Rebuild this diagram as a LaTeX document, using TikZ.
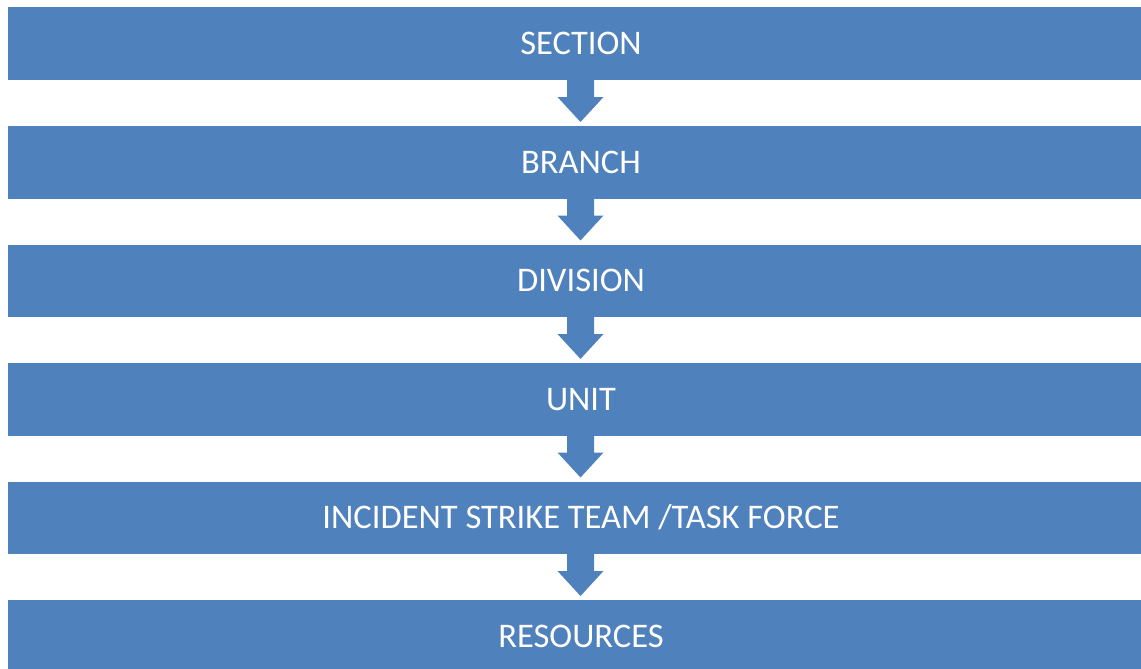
\documentclass[tikz,border=0pt]{standalone}
\usepackage{fontspec}
\setmainfont{Carlito}
\usetikzlibrary{calc}
\definecolor{boxblue}{HTML}{4F81BD}
\tikzset{
  level/.style={rectangle, fill=boxblue, draw=none, minimum width=1133pt, minimum height=72.5pt, inner sep=0pt, outer sep=0pt},
  lbl/.style={text=white, font=\fontsize{34.5}{40}\selectfont, inner sep=0pt},
}
\newcommand\flowarrow[2]{%
  \fill[boxblue] ($(#1.south)+(-7.5,0)$) -- ($(#1.south)+(19.5,0)$) -- ($(#1.south)+(19.5,-17)$) -- ($(#1.south)+(29,-17)$)
    -- ($(#2.north)+(6,4)$) -- ($(#1.south)+(-17,-17)$) -- ($(#1.south)+(-7.5,-17)$) -- cycle;}
\begin{document}
\begin{tikzpicture}[x=1pt,y=1pt]
\useasboundingbox (0,0) rectangle (1141,-669);
\foreach \i/\t in {0/SECTION,1/BRANCH,2/DIVISION,3/UNIT,4/{INCIDENT STRIKE TEAM /TASK FORCE},5/RESOURCES}{
  \node[level] (b\i) at (574.5,{-43.75-118.5*\i}) {};
  \node[lbl] (t\i) at (581,{-43.75-118.5*\i}) {\t};
}
\flowarrow{b0}{b1}
\flowarrow{b1}{b2}
\flowarrow{b2}{b3}
\flowarrow{b3}{b4}
\flowarrow{b4}{b5}
\end{tikzpicture}
\end{document}
